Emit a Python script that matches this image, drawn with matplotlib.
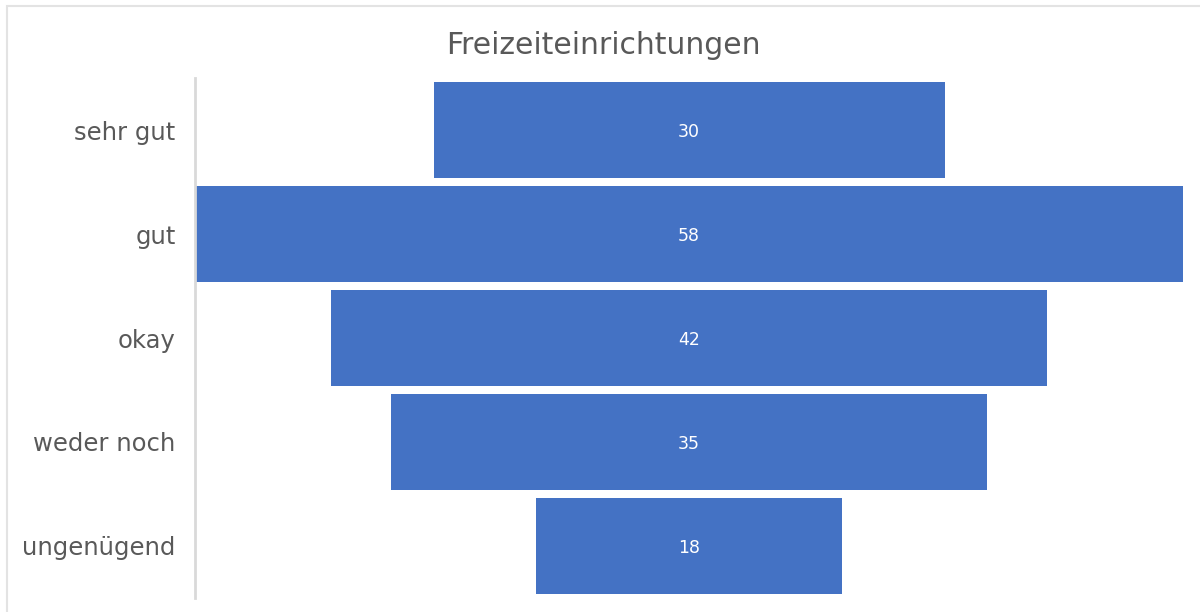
import matplotlib.pyplot as plt
from matplotlib.patches import Rectangle

categories = ['sehr gut', 'gut', 'okay', 'weder noch', 'ungenügend']
values = [30, 58, 42, 35, 18]

plt.rcParams['font.family'] = ['DejaVu Sans']

fig = plt.figure(figsize=(12, 6.12), dpi=100)
# light chart-area border (left and top visible)
fig.patches.append(Rectangle((7 / 1200, -0.1), 1.2, 1 - 6 / 612 + 0.1,
                             transform=fig.transFigure, fill=False,
                             edgecolor='#e3e3e3', linewidth=1.5))

ax = fig.add_axes([0.1625, 0.0229, 0.8235, 0.8496])
max_v = max(values)
lefts = [(max_v - v) / 2 for v in values]
y = list(range(len(categories)))
bars = ax.barh(y, values, left=lefts, height=0.93, color='#4472c4')

for b, v in zip(bars, values):
    ax.text(b.get_x() + b.get_width() / 2, b.get_y() + b.get_height() / 2 + 0.02,
            str(v), ha='center', va='center', color='white', fontsize=12.5)

ax.set_xlim(0, max_v)
ax.set_ylim(len(categories) - 0.5, -0.5)
ax.set_yticks(y)
ax.set_yticklabels(categories, fontsize=17.5, color='#595959')
ax.tick_params(axis='y', length=0, pad=14)
ax.set_xticks([])
for s in ['top', 'right', 'bottom']:
    ax.spines[s].set_visible(False)
ax.spines['left'].set_color('#d9d9d9')
ax.spines['left'].set_linewidth(2)

fig.text(603 / 1200, 1 - 46 / 612, 'Freizeiteinrichtungen', ha='center',
         va='center', fontsize=21.5, color='#595959')

fig.savefig('out.png', dpi=100)
